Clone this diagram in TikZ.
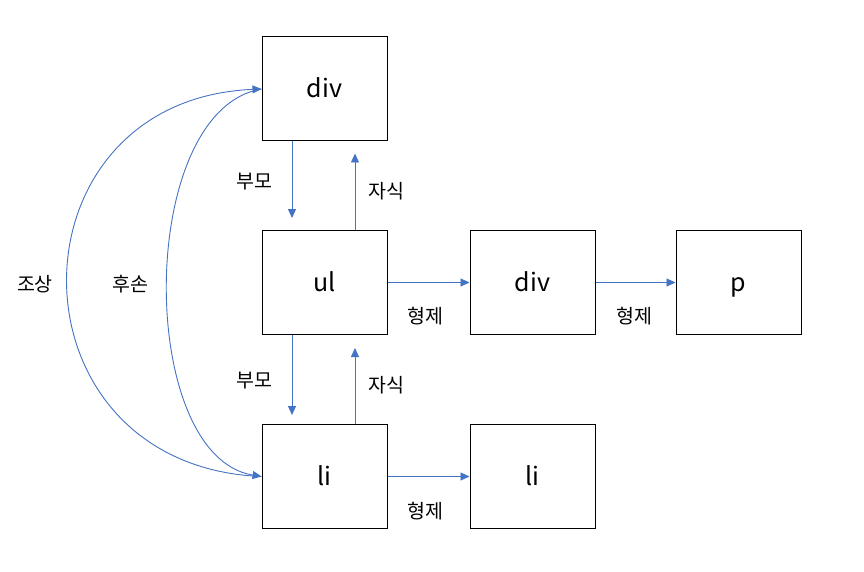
\documentclass[tikz,border=0pt]{standalone}
\usepackage{fontspec}
\setmainfont{Noto Sans CJK KR}
\usetikzlibrary{arrows.meta}
\definecolor{arr}{HTML}{4472C4}
\begin{document}
\begin{tikzpicture}[x=1pt,y=-1pt,
  box/.style={draw=black,line width=1pt,minimum width=125pt,minimum height=104pt,inner sep=0pt,text height=23pt,text depth=5pt,font=\fontsize{25}{28}\selectfont},
  conn/.style={draw=arr,line width=0.9pt,-{Triangle[length=9pt,width=8pt]}},
  lab/.style={font=\fontsize{19.5}{22}\selectfont,inner sep=0pt}]
\useasboundingbox (0,0) rectangle (864,572);
\node[box] (div1) at (324.5,89) {div};
\node[box] (ul) at (324.5,282.5) {ul};
\node[box] (li1) at (324.5,476.5) {li};
\node[box] (div2) at (532.5,282.5) {div};
\node[box] (p) at (738.5,282.5) {p};
\node[box] (li2) at (532.5,476.5) {li};
% parent / child
\draw[conn] ([xshift=-32.5pt]div1.south) -- ([xshift=-32.5pt,yshift=12pt]ul.north);
\draw[conn] ([xshift=30.5pt]ul.north) -- ([xshift=30.5pt,yshift=-12pt]div1.south);
\draw[conn] ([xshift=-32.5pt]ul.south) -- ([xshift=-32.5pt,yshift=9pt]li1.north);
\draw[conn] ([xshift=30.5pt]li1.north) -- ([xshift=30.5pt,yshift=-13pt]ul.south);
% siblings
\draw[conn] (ul.east) -- (div2.west);
\draw[conn] (div2.east) -- (p.west);
\draw[conn] (li1.east) -- (li2.west);
% ancestor / descendant
\draw[conn] (li1.west) .. controls (3,466) and (3,100) .. (div1.west);
\draw[conn] (div1.west) .. controls (136,110) and (136,456) .. (li1.west);
% labels
\node[lab] (l1) at (35,284) {조상};
\node[lab] (l2) at (130,284) {후손};
\node[lab] (l3) at (254,182) {부모};
\node[lab] (l4) at (386,191) {자식};
\node[lab] (l5) at (254,381) {부모};
\node[lab] (l6) at (386,385) {자식};
\node[lab] (l7) at (425,316) {형제};
\node[lab] (l8) at (634,316) {형제};
\node[lab] (l9) at (425,511) {형제};
\end{tikzpicture}
\end{document}
